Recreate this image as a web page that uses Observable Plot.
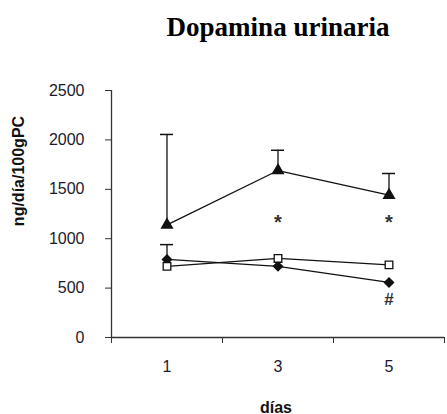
<!DOCTYPE html>
<html>
<head>
<meta charset="utf-8">
<script src="https://cdn.jsdelivr.net/npm/d3@7"></script>
<script src="https://cdn.jsdelivr.net/npm/@observablehq/plot@0.6"></script>
<style>
  html, body { margin: 0; padding: 0; background: white; }
</style>
</head>
<body>
<div id="chart"></div>
<script>
// ---- data ----
const days = [1, 3, 5];
const xTickLabels = ["1", "3", "5"];
const yTicks = [0, 500, 1000, 1500, 2000, 2500];

const triangleMean = [1140, 1690, 1440];
const triangleSD   = [915, 205, 220];
const diamondMean  = [790, 720, 557];
const diamondSD    = [150, null, null];
const squareMean   = [720, 800, 735];
const squareSD     = [null, null, null];

const notes = [
  {day: 3, value: 1200, label: "*"},
  {day: 5, value: 1200, label: "*"},
  {day: 5, value: 380, label: "#"}
];

const titleText = "Dopamina urinaria";
const yLabel = "ng/día/100gPC";
const xLabel = "días";

// ---- table ----
const rows = [];
const addSeries = (group, means, sds) =>
  days.forEach((d, i) => rows.push({group, day: d, value: means[i], sd: sds[i]}));
addSeries("triangle", triangleMean, triangleSD);
addSeries("diamond", diamondMean, diamondSD);
addSeries("square", squareMean, squareSD);
const withErr = rows.filter(d => d.sd != null);

const ink = "#111";

const chart = Plot.plot({
  width: 447,
  height: 414,
  marginLeft: 111,
  marginRight: 3,
  marginTop: 90,
  marginBottom: 77,
  x: {domain: [0, 6]},
  y: {domain: [0, 2500]},
  style: {fontFamily: "Liberation Sans, Arial, sans-serif", fontSize: "16px", color: "#1a1a2a", background: "white"},
  marks: [
    Plot.axisY({ticks: yTicks, tickSize: 6, tickPadding: 21, tickFormat: d => String(d), label: null, stroke: "#333"}),
    Plot.axisX({ticks: [0, 2, 4, 6], tickSize: 6, tickFormat: () => "", label: null, stroke: "#333"}),
    Plot.axisX({ticks: days, tickSize: 0, tickPadding: 23, tickFormat: d => xTickLabels[days.indexOf(d)], label: null}),
    Plot.ruleY([0], {stroke: "#333", strokeWidth: 1.3}),
    Plot.ruleX([0], {stroke: "#333", strokeWidth: 1.3}),
    Plot.lineY(rows, {x: "day", y: "value", z: "group", stroke: ink, strokeWidth: 1.3}),
    Plot.ruleX(withErr, {x: "day", y1: "value", y2: d => d.value + d.sd, stroke: ink, strokeWidth: 1.3}),
    Plot.ruleY(withErr, {y: d => d.value + d.sd, x1: "day", x2: "day", insetLeft: -6.5, insetRight: -6.5, stroke: ink, strokeWidth: 1.5}),
    Plot.dot(rows.filter(d => d.group === "triangle"), {x: "day", y: "value", symbol: "triangle", r: 3.9, fill: ink, stroke: ink}),
    Plot.dot(rows.filter(d => d.group === "diamond"), {x: "day", y: "value", symbol: "diamond2", r: 4, fill: ink, stroke: ink}),
    Plot.dot(rows.filter(d => d.group === "square"), {x: "day", y: "value", symbol: "square", r: 4.3, fill: "white", stroke: ink, strokeWidth: 1.3}),
    Plot.text(notes.filter(d => d.label === "*"), {x: "day", y: "value", text: "label", fontSize: 20, dy: 4, fontWeight: "bold", fill: "#333"}),
    Plot.text(notes.filter(d => d.label !== "*"), {x: "day", y: "value", text: "label", fontSize: 17, fontWeight: "bold", fill: "#333"}),
    Plot.text([titleText], {frameAnchor: "top", dy: -55, lineAnchor: "bottom", textAnchor: "middle", fontFamily: "Liberation Serif, Times New Roman, serif", fontWeight: "bold", fontSize: 27, fill: "#000"}),
    Plot.text([yLabel], {frameAnchor: "left", dx: -88, dy: -43, rotate: -90, textAnchor: "middle", lineAnchor: "bottom", fontWeight: "bold", fontSize: 16, fill: "#111"}),
    Plot.text([xLabel], {frameAnchor: "bottom", dx: -2, dy: 75, lineAnchor: "bottom", textAnchor: "middle", fontWeight: "bold", fontSize: 16, fill: "#111"})
  ]
});
document.getElementById("chart").appendChild(chart);
</script>
</body>
</html>
